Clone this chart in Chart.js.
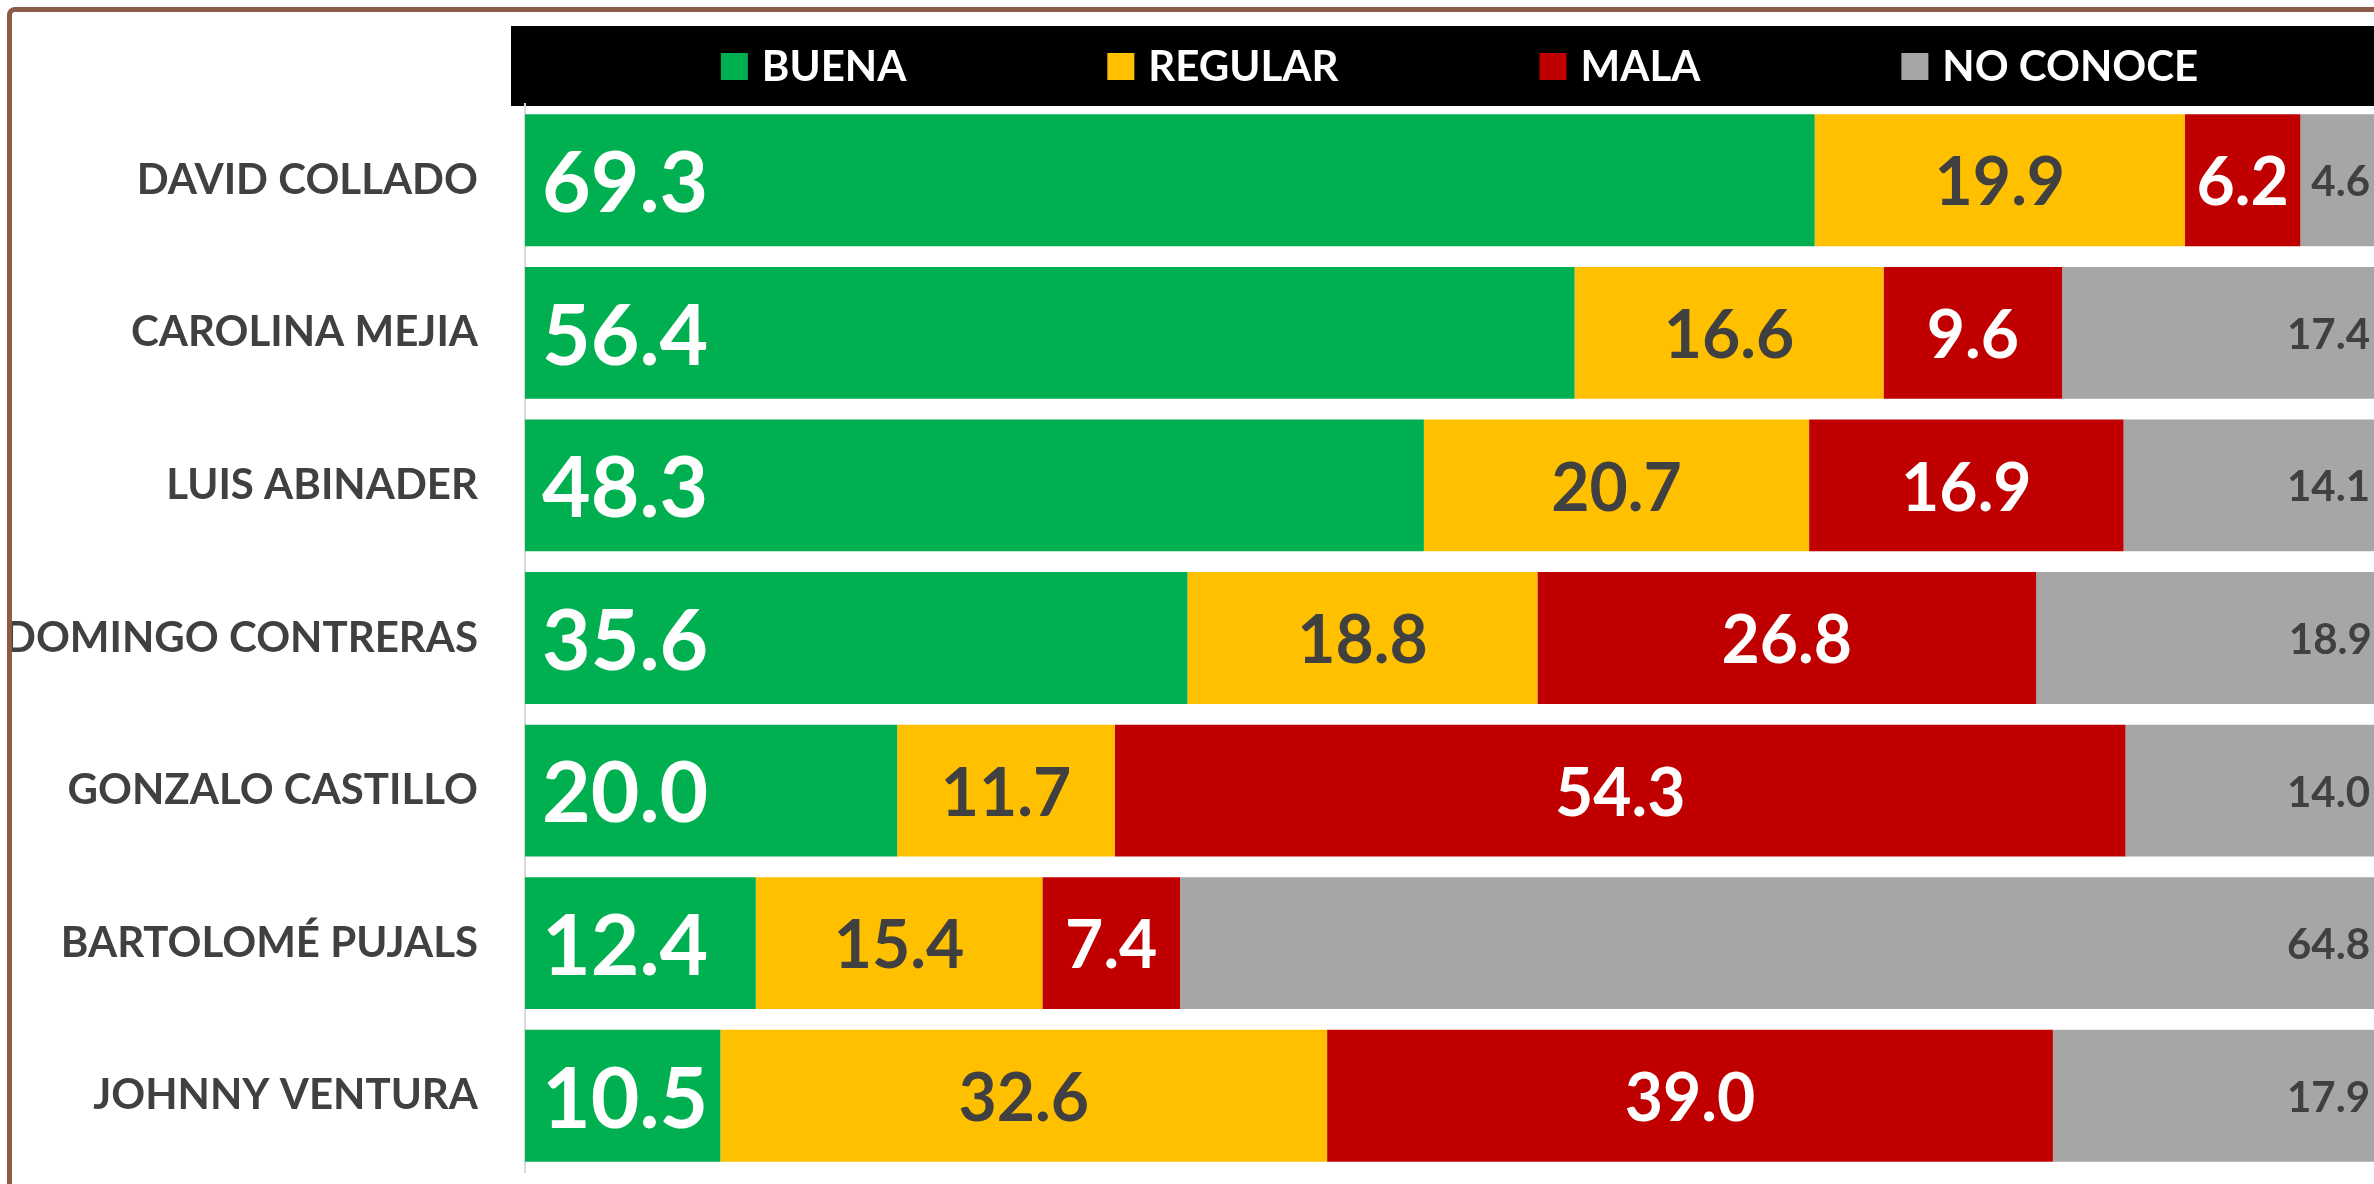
<!DOCTYPE html>
<html>
<head>
<meta charset="utf-8">
<script src="https://cdn.jsdelivr.net/npm/chart.js@4.4.1/dist/chart.umd.min.js"></script>
<style>
  html, body { margin: 0; padding: 0; background: #fff; overflow: hidden; }
  #page { position: relative; width: 2374px; height: 1184px; overflow: hidden; }
  #imagen { position: absolute; left: 0; top: 0; }
  #frame {
    position: absolute; left: 7px; top: 7px; width: 2500px; height: 1400px;
    border-left: 5px solid #8c5b47; border-top: 5px solid #8c5b47; border-top-left-radius: 8px;
    box-sizing: border-box; pointer-events: none;
  }
</style>
</head>
<body>
<div id="page">
  <canvas id="imagen" width="2390" height="1184"></canvas>
  <div id="frame"></div>
</div>
<script>
const candidatos = ['DAVID COLLADO', 'CAROLINA MEJIA', 'LUIS ABINADER', 'DOMINGO CONTRERAS',
  'GONZALO CASTILLO', 'BARTOLOMÉ PUJALS', 'JOHNNY VENTURA'];
const buena    = [69.3, 56.4, 48.3, 35.6, 20.0, 12.4, 10.5];
const regular  = [19.9, 16.6, 20.7, 18.8, 11.7, 15.4, 32.6];
const mala     = [6.2, 9.6, 16.9, 26.8, 54.3, 7.4, 39.0];
const noConoce = [4.6, 17.4, 14.1, 18.9, 14.0, 64.8, 17.9];

// black band with the legend on top
const cabecera = {
  id: 'cabecera',
  beforeDraw(chart) {
    const ctx = chart.ctx;
    const area = chart.chartArea;
    ctx.save();
    ctx.fillStyle = '#000';
    ctx.fillRect(area.left - 14, 26, chart.width, 80);
    ctx.font = 'bold 42px Lato';
    const box = 27, gap = 14, sep = 201;
    const items = chart.data.datasets.map(ds => ({
      text: ds.label, color: ds.backgroundColor, w: ctx.measureText(ds.label).width
    }));
    const total = items.reduce((s, it) => s + box + gap + it.w, 0) + sep * (items.length - 1);
    let x = (area.left + area.right) / 2 + 4 - total / 2;
    ctx.textBaseline = 'alphabetic';
    items.forEach(it => {
      ctx.fillStyle = it.color;
      ctx.fillRect(x, 53, box, box);
      ctx.fillStyle = '#fff';
      ctx.fillText(it.text, x + box + gap, 81);
      x += box + gap + it.w + sep;
    });
    ctx.restore();
  }
};

// value labels inside the segments
const valores = {
  id: 'valores',
  afterDatasetsDraw(chart) {
    const ctx = chart.ctx;
    const sizes = [84, 66, 66, 42];
    const colors = ['#ffffff', '#404040', '#ffffff', '#404040'];
    ctx.save();
    ctx.textBaseline = 'alphabetic';
    chart.data.datasets.forEach((ds, i) => {
      const meta = chart.getDatasetMeta(i);
      ctx.font = 'bold ' + sizes[i] + 'px Lato';
      ctx.fillStyle = colors[i];
      meta.data.forEach((bar, j) => {
        const p = bar.getProps(['x', 'y', 'base'], true);
        const txt = ds.data[j].toFixed(1);
        const y = p.y + sizes[i] * 0.38;
        if (i === 0) {
          ctx.textAlign = 'left';
          ctx.fillText(txt, p.base + 17, y);
        } else if (i === 3) {
          ctx.textAlign = 'right';
          ctx.fillText(txt, p.x - 16, y);
        } else {
          ctx.textAlign = 'center';
          ctx.fillText(txt, (p.x + p.base) / 2, y);
        }
      });
    });
    ctx.restore();
  }
};

new Chart(document.getElementById('imagen'), {
  type: 'bar',
  data: {
    labels: candidatos,
    datasets: [
      { label: 'BUENA', data: buena, backgroundColor: '#00b050' },
      { label: 'REGULAR', data: regular, backgroundColor: '#ffc000' },
      { label: 'MALA', data: mala, backgroundColor: '#c00000' },
      { label: 'NO CONOCE', data: noConoce, backgroundColor: '#a6a6a6' }
    ]
  },
  options: {
    indexAxis: 'y',
    responsive: false,
    animation: false,
    datasets: { bar: { barPercentage: 0.864, categoryPercentage: 1 } },
    layout: { padding: { top: 104, bottom: 12, left: 0, right: 4 } },
    plugins: { legend: { display: false }, tooltip: { enabled: false } },
    scales: {
      x: { stacked: true, min: 0, max: 100, display: false },
      y: {
        stacked: true,
        afterFit: scale => {
          scale.width = 525;
          scale.paddingTop = 0;
          scale.paddingBottom = 0;
        },
        grid: { display: false, drawTicks: false },
        border: { display: true, color: '#d9d9d9', width: 2 },
        ticks: { color: '#404040', padding: 47, font: { family: 'Lato', size: 42, weight: 'bold' } }
      }
    }
  },
  plugins: [cabecera, valores]
});
</script>
</body>
</html>
